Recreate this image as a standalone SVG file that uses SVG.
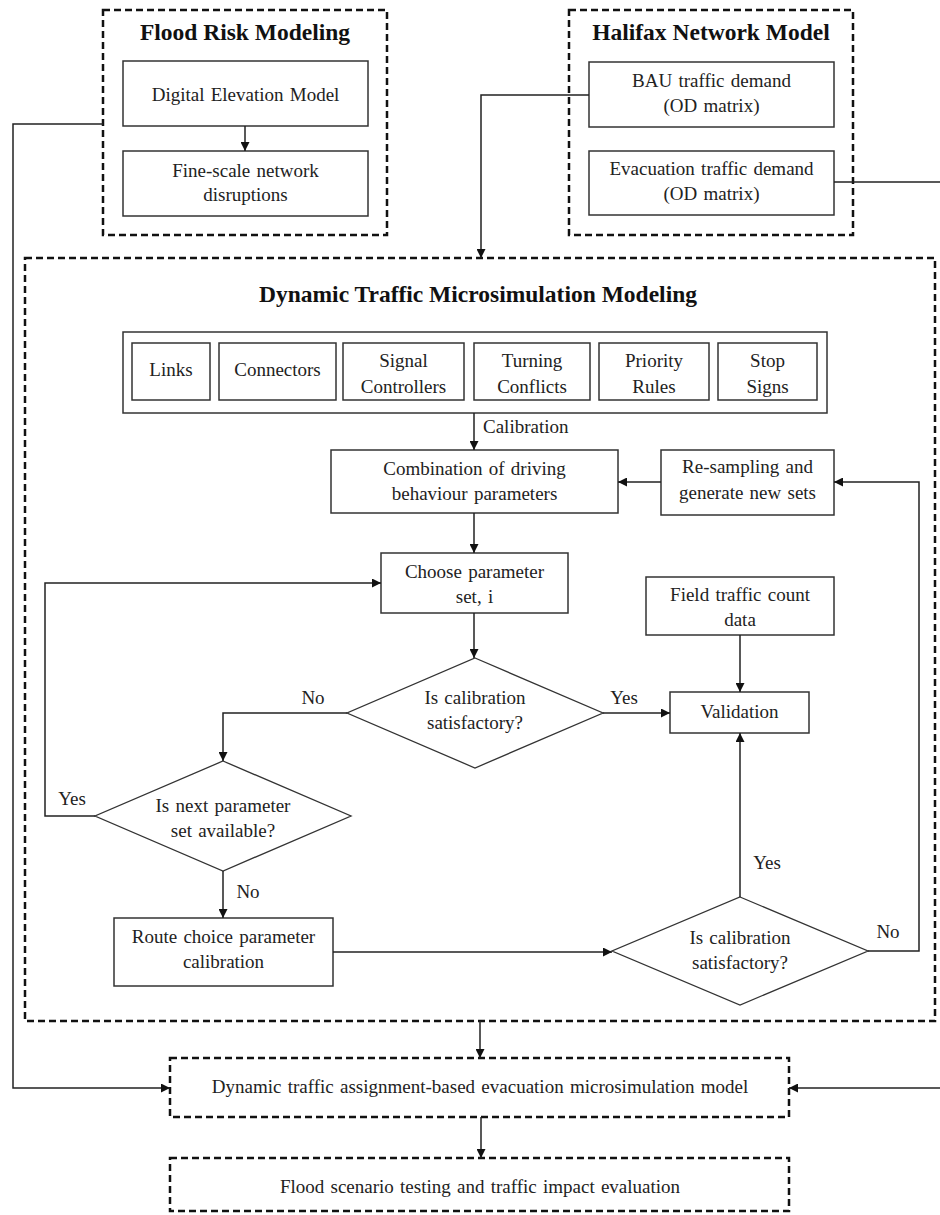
<svg xmlns="http://www.w3.org/2000/svg" width="940" height="1215" viewBox="0 0 940 1215">
  <style>
    text { font-family: "Liberation Serif", "Times New Roman", serif; font-size: 19px; word-spacing: 1.5px; fill: #222; text-anchor: middle; }
    .title { font-weight: bold; font-size: 23.5px; word-spacing: 0; fill: #111; }
    .box { fill: #fff; stroke: #333; stroke-width: 1.5; }
    .dash { fill: none; stroke: #111; stroke-width: 2.5; stroke-dasharray: 7 4; }
    .dec { fill: #fff; stroke: #333; stroke-width: 1.3; }
    .wire { fill: none; stroke: #222; stroke-width: 1.5; }
  </style>
  <defs>
    <marker id="head" viewBox="0 0 10 10" refX="10" refY="5" markerWidth="9" markerHeight="9" markerUnits="userSpaceOnUse" orient="auto">
      <path d="M0,0 L10,5 L0,10 z" fill="#111"/>
    </marker>
  </defs>
  <rect width="940" height="1215" fill="#fff"/>

  <!-- Flood risk modeling -->
  <g id="flood-risk">
    <rect class="dash" x="103" y="10" width="284" height="225"/>
    <text class="title" x="245" y="40">Flood Risk Modeling</text>
    <g id="dem">
      <rect class="box" x="123" y="61" width="245" height="65"/>
      <text x="245.5" y="101">Digital Elevation Model</text>
    </g>
    <g id="disruptions">
      <rect class="box" x="123" y="151" width="245" height="65"/>
      <text x="245.5" y="177">Fine-scale network</text>
      <text x="245.5" y="201">disruptions</text>
    </g>
  </g>

  <!-- Halifax network model -->
  <g id="halifax">
    <rect class="dash" x="569" y="10" width="284" height="225"/>
    <text class="title" x="711" y="40">Halifax Network Model</text>
    <g id="bau-demand">
      <rect class="box" x="589" y="62" width="245" height="65"/>
      <text x="711.5" y="87">BAU traffic demand</text>
      <text x="711.5" y="112">(OD matrix)</text>
    </g>
    <g id="evac-demand">
      <rect class="box" x="589" y="151" width="245" height="64"/>
      <text x="711.5" y="175">Evacuation traffic demand</text>
      <text x="711.5" y="200">(OD matrix)</text>
    </g>
  </g>

  <!-- Microsimulation modeling container -->
  <g id="microsim">
    <rect class="dash" x="25" y="258" width="910" height="763"/>
    <text class="title" x="478" y="302">Dynamic Traffic Microsimulation Modeling</text>
  </g>

  <g id="network-elements">
    <rect class="box" x="123" y="332" width="704" height="81"/>
    <g id="links">
      <rect class="box" x="132" y="343" width="78" height="57"/>
      <text x="171" y="376">Links</text>
    </g>
    <g id="connectors">
      <rect class="box" x="219" y="343" width="117" height="57"/>
      <text x="277.5" y="376">Connectors</text>
    </g>
    <g id="signal-controllers">
      <rect class="box" x="343" y="343" width="121" height="57"/>
      <text x="403.5" y="367">Signal</text>
      <text x="403.5" y="393">Controllers</text>
    </g>
    <g id="turning-conflicts">
      <rect class="box" x="474" y="343" width="116" height="57"/>
      <text x="532" y="367">Turning</text>
      <text x="532" y="393">Conflicts</text>
    </g>
    <g id="priority-rules">
      <rect class="box" x="599" y="343" width="110" height="57"/>
      <text x="654" y="367">Priority</text>
      <text x="654" y="393">Rules</text>
    </g>
    <g id="stop-signs">
      <rect class="box" x="718" y="343" width="99" height="57"/>
      <text x="767.5" y="367">Stop</text>
      <text x="767.5" y="393">Signs</text>
    </g>
  </g>

  <g id="combination">
    <rect class="box" x="331" y="450" width="287" height="63"/>
    <text x="474.5" y="475">Combination of driving</text>
    <text x="474.5" y="500">behaviour parameters</text>
  </g>

  <g id="resampling">
    <rect class="box" x="661" y="450" width="173" height="65"/>
    <text x="747.5" y="473">Re-sampling and</text>
    <text x="747.5" y="499">generate new sets</text>
  </g>

  <g id="choose-set">
    <rect class="box" x="381" y="553" width="187" height="60"/>
    <text x="474.5" y="578">Choose parameter</text>
    <text x="474.5" y="603">set, i</text>
  </g>

  <g id="field-data">
    <rect class="box" x="646" y="577" width="188" height="58"/>
    <text x="740" y="601">Field traffic count</text>
    <text x="740" y="626">data</text>
  </g>

  <g id="check-calibration">
    <polygon class="dec" points="475,658 603,713 475,768 347,713"/>
    <text x="475" y="704">Is calibration</text>
    <text x="475" y="729">satisfactory?</text>
  </g>

  <g id="validation">
    <rect class="box" x="670" y="692" width="139" height="41"/>
    <text x="739.5" y="718">Validation</text>
  </g>

  <g id="check-next-set">
    <polygon class="dec" points="223,761 351,816 223,871 95,816"/>
    <text x="223" y="812">Is next parameter</text>
    <text x="223" y="837">set available?</text>
  </g>

  <g id="route-choice">
    <rect class="box" x="114" y="918" width="219" height="68"/>
    <text x="223.5" y="943">Route choice parameter</text>
    <text x="223.5" y="968">calibration</text>
  </g>

  <g id="check-route-calibration">
    <polygon class="dec" points="740,897 868,951 740,1005 612,951"/>
    <text x="740" y="944">Is calibration</text>
    <text x="740" y="969">satisfactory?</text>
  </g>

  <g id="evac-model">
    <rect class="dash" x="170" y="1058" width="619" height="59"/>
    <text x="480" y="1093">Dynamic traffic assignment-based evacuation microsimulation model</text>
  </g>

  <g id="scenario-testing">
    <rect class="dash" x="170" y="1158" width="619" height="53"/>
    <text x="480" y="1193">Flood scenario testing and traffic impact evaluation</text>
  </g>

  <!-- Connectors -->
  <g id="connectors-layer">
    <path class="wire" d="M245,126 V151" marker-end="url(#head)"/>
    <path class="wire" d="M103,124 H13 V1088 H170" marker-end="url(#head)"/>
    <path class="wire" d="M589,95 H481 V258" marker-end="url(#head)"/>
    <path class="wire" d="M834,182 H940"/>
    <path class="wire" d="M940,1088 H789" marker-end="url(#head)"/>

    <path class="wire" d="M474,413 V450" marker-end="url(#head)"/>
    <path class="wire" d="M661,482 H618" marker-end="url(#head)"/>
    <path class="wire" d="M474,513 V553" marker-end="url(#head)"/>
    <path class="wire" d="M474,613 V658" marker-end="url(#head)"/>
    <path class="wire" d="M603,713 H670" marker-end="url(#head)"/>
    <path class="wire" d="M740,635 V692" marker-end="url(#head)"/>
    <path class="wire" d="M347,713 H223 V761" marker-end="url(#head)"/>
    <path class="wire" d="M95,816 H45 V583 H381" marker-end="url(#head)"/>
    <path class="wire" d="M223,871 V918" marker-end="url(#head)"/>
    <path class="wire" d="M333,952 H612" marker-end="url(#head)"/>
    <path class="wire" d="M740,897 V733" marker-end="url(#head)"/>
    <path class="wire" d="M868,951 H919 V482 H834" marker-end="url(#head)"/>

    <path class="wire" d="M480,1021 V1058" marker-end="url(#head)"/>
    <path class="wire" d="M481,1117 V1158" marker-end="url(#head)"/>

    <text x="483" y="433" style="text-anchor:start">Calibration</text>
    <text x="624" y="704">Yes</text>
    <text x="313" y="704">No</text>
    <text x="72" y="805">Yes</text>
    <text x="248" y="898">No</text>
    <text x="767" y="869">Yes</text>
    <text x="888" y="938">No</text>
  </g>
</svg>
